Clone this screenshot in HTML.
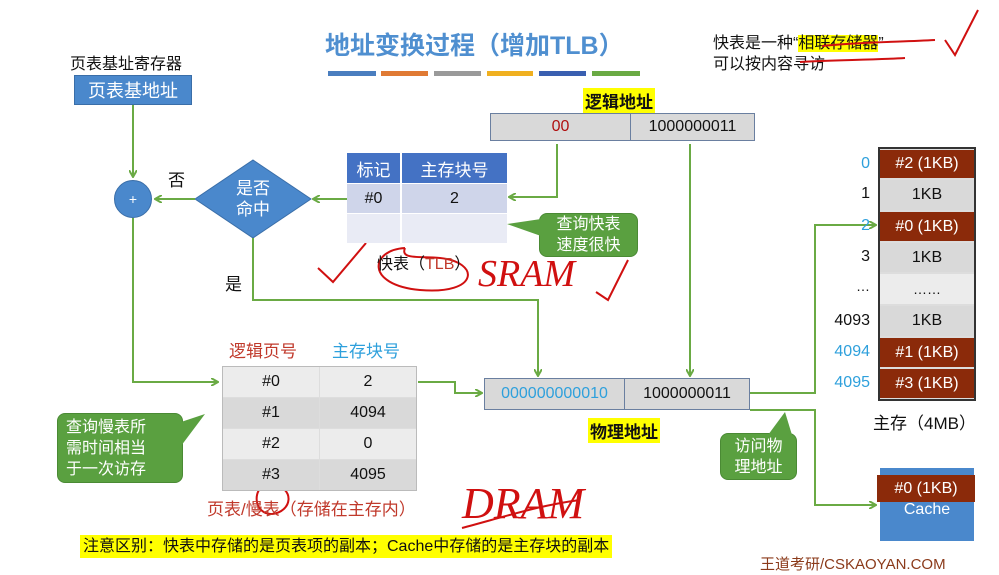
<!DOCTYPE html>
<html><head><meta charset="utf-8"><style>
*{margin:0;padding:0;box-sizing:border-box}
body{width:999px;height:575px;background:#fff;position:relative;overflow:hidden;font-family:"Liberation Sans","Noto Sans CJK SC",sans-serif;color:#111}
.a{position:absolute}
.c{position:absolute;display:flex;align-items:center;justify-content:center;text-align:center}
.hl{background:#ffff00}
.call{position:absolute;background:#5aa040;border:1px solid #4a8a34;border-radius:8px;color:#fff;font-size:16px;line-height:21px;text-align:center;display:flex;align-items:center;justify-content:center}
svg{position:absolute;left:0;top:0}
</style></head><body>
<div class="a" style="left:325px;top:26px;font-size:25px;font-weight:bold;color:#4f8fd0;white-space:nowrap">地址变换过程（增加TLB）</div>
<div class="a" style="left:328px;top:71px;width:48px;height:5px;background:#4a7ebf"></div>
<div class="a" style="left:381px;top:71px;width:47px;height:5px;background:#e07a34"></div>
<div class="a" style="left:434px;top:71px;width:47px;height:5px;background:#9a9a9a"></div>
<div class="a" style="left:487px;top:71px;width:46px;height:5px;background:#f0b020"></div>
<div class="a" style="left:539px;top:71px;width:47px;height:5px;background:#3a5fb0"></div>
<div class="a" style="left:592px;top:71px;width:48px;height:5px;background:#6aaa44"></div>

<div class="a" style="left:713px;top:29px;font-size:16px;white-space:nowrap">快表是一种“<span class="hl">相联存储器</span>”</div>
<div class="a" style="left:713px;top:50px;font-size:16px;white-space:nowrap">可以按内容寻访</div>

<div class="a" style="left:70px;top:50px;font-size:16px;white-space:nowrap">页表基址寄存器</div>
<div class="c" style="left:74px;top:75px;width:118px;height:30px;background:#4a88cc;border:1px solid #3a6ea8;color:#fff;font-size:18px">页表基地址</div>

<div class="c" style="left:114px;top:180px;width:38px;height:38px;border-radius:50%;background:#4a88cc;border:1px solid #3a6ea8;color:#fff;font-size:14px">+</div>
<div class="a" style="left:168px;top:166px;font-size:17px">否</div>
<div class="a" style="left:225px;top:270px;font-size:17px">是</div>

<div class="call" style="left:539px;top:213px;width:99px;height:44px">查询快表<br>速度很快</div>
<div class="call" style="left:57px;top:413px;width:126px;height:70px;justify-content:flex-start;padding-left:8px;text-align:left">查询慢表所<br>需时间相当<br>于一次访存</div>
<div class="call" style="left:720px;top:433px;width:77px;height:47px">访问物<br>理地址</div>

<svg width="999" height="575">
<defs><marker id="m" markerWidth="8" markerHeight="8" refX="7" refY="4" orient="auto" markerUnits="userSpaceOnUse"><path d="M0,0 L7,4 L0,8" fill="none" stroke="#6aaa44" stroke-width="2"/></marker></defs>
<polygon points="253,160 311,199 253,238 195,199" fill="#4a88cc" stroke="#3a6ea8"/>
<polygon points="541,219 507,224 541,236" fill="#5aa040"/>
<polygon points="181,422 205,414 181,446" fill="#5aa040"/>
<polygon points="768,435 785,412 792,435" fill="#5aa040"/>
<g fill="none" stroke="#6aaa44" stroke-width="2">
<path d="M133,105 V177" marker-end="url(#m)"/>
<path d="M195,199 H155" marker-end="url(#m)"/>
<path d="M347,199 H313" marker-end="url(#m)"/>
<path d="M557,144 V197 H509" marker-end="url(#m)"/>
<path d="M690,144 V376" marker-end="url(#m)"/>
<path d="M253,238 V300 H538 V376" marker-end="url(#m)"/>
<path d="M133,218 V382 H218" marker-end="url(#m)"/>
<path d="M418,382 H455 V393 H482" marker-end="url(#m)"/>
<path d="M750,393 H815 V225 H876" marker-end="url(#m)"/>
<path d="M750,410 H815 V505 H876" marker-end="url(#m)"/>
</g>
<g fill="none" stroke="#d01010" stroke-width="2">
<path d="M318,268 L333,282 L366,243"/>
<path d="M405,248 C370,250 365,285 420,290 C480,295 480,262 440,258 C420,256 400,260 405,248"/>
<path d="M596,292 L608,300 L628,260"/>
<path d="M945,40 L955,55 L978,10"/>
<path d="M822,46 C860,42 900,42 935,40"/>
<path d="M800,62 C830,60 870,60 905,58"/>
<path d="M268,482 C250,490 255,515 272,514 C292,512 296,488 272,484"/>
<path d="M462,528 C500,518 540,505 580,500"/>
</g>
</svg>

<div class="c" style="left:195px;top:175px;width:116px;height:48px;color:#fff;font-size:17px;line-height:21px">是否<br>命中</div>

<div class="a" style="left:347px;top:153px;width:160px;height:90px">
<div class="c" style="left:0;top:0;width:53px;height:30px;background:#4472c4;color:#fff;font-size:17px">标记</div>
<div class="c" style="left:55px;top:0;width:105px;height:30px;background:#4472c4;color:#fff;font-size:17px">主存块号</div>
<div class="c" style="left:0;top:31px;width:53px;height:29px;background:#cfd5ea;font-size:16px">#0</div>
<div class="c" style="left:55px;top:31px;width:105px;height:29px;background:#cfd5ea;font-size:16px">2</div>
<div class="c" style="left:0;top:61px;width:53px;height:29px;background:#e9ebf5"></div>
<div class="c" style="left:55px;top:61px;width:105px;height:29px;background:#e9ebf5"></div>
</div>
<div class="a" style="left:377px;top:250px;font-size:16px;white-space:nowrap">快表（<span style="color:#c0392b">TLB</span>）</div>
<div class="a" style="left:478px;top:252px;font-size:38px;color:#d01010;font-family:'Liberation Serif',serif;font-style:italic">SRAM</div>

<div class="a hl" style="left:583px;top:88px;font-size:17px;font-weight:bold;padding:0 2px">逻辑地址</div>
<div class="c" style="left:490px;top:113px;width:141px;height:28px;background:#d9d9d9;border:1px solid #6a7fa0;color:#b01010;font-size:16px">00</div>
<div class="c" style="left:630px;top:113px;width:125px;height:28px;background:#d9d9d9;border:1px solid #6a7fa0;font-size:16px">1000000011</div>

<div class="a" style="left:229px;top:337px;font-size:17px;color:#c0392b">逻辑页号</div>
<div class="a" style="left:332px;top:337px;font-size:17px;color:#2ea0dc">主存块号</div>
<div class="a" style="left:222px;top:366px;width:195px;height:125px;border:1px solid #bbb;background:#ddd">
<div class="c" style="left:0;top:0;width:96px;height:30px;background:#ececec;font-size:16px">#0</div>
<div class="c" style="left:97px;top:0;width:96px;height:30px;background:#ececec;font-size:16px">2</div>
<div class="c" style="left:0;top:31px;width:96px;height:30px;background:#d9d9d9;font-size:16px">#1</div>
<div class="c" style="left:97px;top:31px;width:96px;height:30px;background:#d9d9d9;font-size:16px">4094</div>
<div class="c" style="left:0;top:62px;width:96px;height:30px;background:#ececec;font-size:16px">#2</div>
<div class="c" style="left:97px;top:62px;width:96px;height:30px;background:#ececec;font-size:16px">0</div>
<div class="c" style="left:0;top:93px;width:96px;height:30px;background:#d9d9d9;font-size:16px">#3</div>
<div class="c" style="left:97px;top:93px;width:96px;height:30px;background:#d9d9d9;font-size:16px">4095</div>
</div>
<div class="a" style="left:207px;top:495px;font-size:17px;color:#c0392b;white-space:nowrap">页表/慢表（存储在主存内）</div>
<div class="a" style="left:462px;top:478px;font-size:44px;color:#d01010;font-family:'Liberation Serif',serif;font-style:italic">DRAM</div>

<div class="c" style="left:484px;top:378px;width:141px;height:32px;background:#d9d9d9;border:1px solid #6a7fa0;color:#2ea0dc;font-size:16px">000000000010</div>
<div class="c" style="left:624px;top:378px;width:126px;height:32px;background:#d9d9d9;border:1px solid #6a7fa0;font-size:16px">1000000011</div>
<div class="a hl" style="left:588px;top:418px;font-size:17px;font-weight:bold;padding:0 2px">物理地址</div>

<div class="a" style="left:878px;top:147px;width:98px;height:254px;border:2px solid #333;background:#ddd"></div>
<div class="c" style="left:880px;top:150px;width:94px;height:28px;background:#8b2a0a;color:#fff;font-size:16px">#2 (1KB)</div>
<div class="c" style="left:880px;top:180px;width:94px;height:30px;background:#d9d9d9;font-size:16px">1KB</div>
<div class="c" style="left:880px;top:212px;width:94px;height:29px;background:#8b2a0a;color:#fff;font-size:16px">#0 (1KB)</div>
<div class="c" style="left:880px;top:243px;width:94px;height:29px;background:#d9d9d9;font-size:16px">1KB</div>
<div class="c" style="left:880px;top:274px;width:94px;height:30px;background:#ececec;font-size:14px">……</div>
<div class="c" style="left:880px;top:306px;width:94px;height:30px;background:#d9d9d9;font-size:16px">1KB</div>
<div class="c" style="left:880px;top:338px;width:94px;height:29px;background:#8b2a0a;color:#fff;font-size:16px">#1 (1KB)</div>
<div class="c" style="left:880px;top:369px;width:94px;height:29px;background:#8b2a0a;color:#fff;font-size:16px">#3 (1KB)</div>
<div class="a" style="left:820px;top:155px;width:50px;text-align:right;font-size:16px;color:#2ea0dc">0</div>
<div class="a" style="left:820px;top:185px;width:50px;text-align:right;font-size:16px">1</div>
<div class="a" style="left:820px;top:217px;width:50px;text-align:right;font-size:16px;color:#2ea0dc">2</div>
<div class="a" style="left:820px;top:248px;width:50px;text-align:right;font-size:16px">3</div>
<div class="a" style="left:820px;top:278px;width:50px;text-align:right;font-size:14px">…</div>
<div class="a" style="left:820px;top:312px;width:50px;text-align:right;font-size:16px">4093</div>
<div class="a" style="left:820px;top:343px;width:50px;text-align:right;font-size:16px;color:#2ea0dc">4094</div>
<div class="a" style="left:820px;top:374px;width:50px;text-align:right;font-size:16px;color:#2ea0dc">4095</div>
<div class="a" style="left:873px;top:409px;font-size:17px;white-space:nowrap">主存（4MB）</div>

<div class="c" style="left:880px;top:468px;width:94px;height:73px;background:#4a88cc;color:#fff;font-size:16px;padding-top:10px">Cache</div>
<div class="c" style="left:877px;top:475px;width:98px;height:27px;background:#8b2a0a;color:#fff;font-size:16px">#0 (1KB)</div>

<div class="a hl" style="left:80px;top:535px;height:23px;font-size:16px;line-height:23px;padding:0 3px;white-space:nowrap">注意区别：快表中存储的是页表项的副本；Cache中存储的是主存块的副本</div>
<div class="a" style="left:760px;top:553px;font-size:15px;color:#8b3a1a;white-space:nowrap">王道考研/CSKAOYAN.COM</div>
</body></html>
